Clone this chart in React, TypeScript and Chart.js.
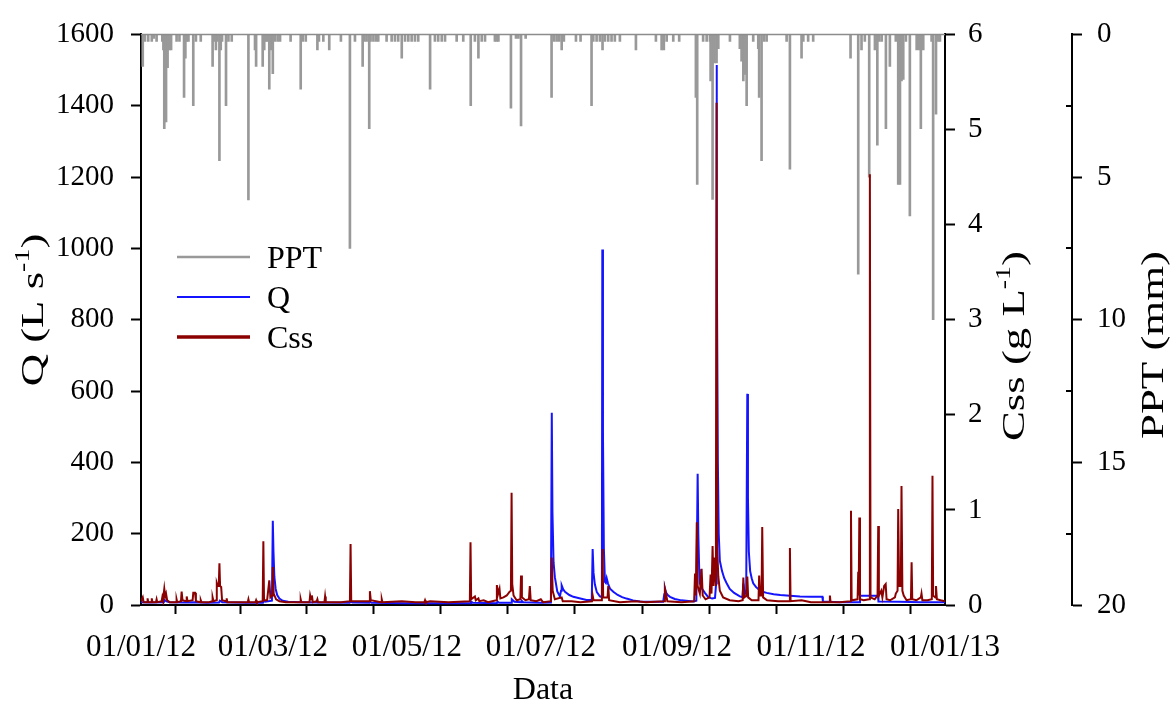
import React, { useEffect, useRef } from "react";
import { Chart, registerables } from "chart.js";

Chart.register(...registerables);

const FONT = "'Liberation Serif', 'Times New Roman', Times, serif";

// x axis: days since 01/01/2012
const xTickDays = [0, 31, 60, 91, 121, 152, 182, 213, 244, 274, 305, 335, 366];
const xTickLabels = ["01/01/12", "", "01/03/12", "", "01/05/12", "", "01/07/12", "", "01/09/12", "", "01/11/12", "", "01/01/13"];

// PPT (mm), daily rain bars
const pptDays = [
  0.8, 1.8, 3.3, 4.9, 5.9, 7.1, 9.7, 10.2, 10.6, 11.4,
  12.1, 12.9, 13.7, 16.2, 17.5, 19.6, 20.2, 20.8, 21.6, 23.8,
  25.0, 27.2, 32.6, 33.2, 34.1, 34.8, 35.7, 36.3, 36.9, 38.7,
  39.8, 41.3, 48.9, 51.9, 52.4, 55.4, 56.1, 56.9, 57.7, 58.4,
  59.2, 60.0, 61.0, 62.2, 63.3, 68.1, 72.7, 73.6, 75.0, 80.3,
  81.0, 83.0, 85.7, 91.0, 95.1, 97.4, 100.9, 101.7, 102.7, 103.9,
  104.5, 105.8, 107.0, 108.0, 111.8, 114.1, 115.6, 117.1, 118.7, 120.2,
  121.7, 123.2, 124.7, 126.2, 131.6, 133.8, 135.3, 136.9, 138.4, 143.7,
  146.7, 150.1, 152.0, 153.6, 155.1, 156.6, 161.1, 161.9, 162.7, 168.4,
  170.7, 171.8, 173.0, 175.1, 186.9, 188.0, 189.2, 190.4, 191.5, 192.5,
  198.0, 200.1, 205.1, 205.9, 207.4, 208.9, 210.1, 211.2, 212.7, 214.2,
  215.7, 218.0, 225.3, 234.4, 237.0, 238.0, 239.3, 242.3, 245.0, 252.6,
  253.2, 255.9, 257.5, 259.0, 259.3, 260.2, 261.1, 262.0, 262.8, 268.1,
  272.6, 273.4, 274.2, 274.9, 275.7, 278.7, 281.0, 281.4, 282.5, 283.6,
  284.8, 293.9, 295.4, 300.7, 301.5, 303.7, 306.0, 323.0, 326.5, 328.0,
  329.5, 331.5, 334.1, 335.2, 336.1, 337.2, 339.1, 340.9, 343.6, 344.7,
  345.5, 346.2, 347.0, 348.2, 350.0, 353.1, 354.3, 355.0, 356.1, 359.9,
  360.6, 361.9, 362.9, 363.7,
];
const pptVals = [
  1.12, 0.25, 0.25, 0.25, 0.14, 0.25, 0.25, 0.54, 3.3, 3.07,
  1.17, 0.54, 0.54, 0.25, 0.25, 2.21, 0.83, 0.25, 0.25, 2.5,
  0.25, 0.25, 1.12, 0.25, 0.54, 0.25, 4.43, 0.54, 0.25, 2.5,
  0.25, 0.25, 5.8, 0.54, 1.12, 1.12, 0.54, 0.25, 0.25, 1.92,
  0.54, 1.38, 0.25, 0.25, 0.25, 0.25, 1.92, 0.25, 0.25, 0.54,
  0.25, 0.25, 0.54, 0.25, 7.5, 0.25, 1.12, 0.25, 0.25, 3.3,
  0.25, 0.25, 0.25, 0.25, 0.25, 0.25, 0.25, 0.25, 0.83, 0.25,
  0.25, 0.25, 0.25, 0.25, 1.92, 0.25, 0.25, 0.25, 0.25, 0.25,
  0.25, 2.5, 0.25, 0.83, 0.25, 0.25, 0.25, 0.25, 0.25, 2.59,
  0.14, 0.14, 3.21, 0.14, 2.21, 0.25, 0.25, 0.25, 0.54, 0.25,
  0.25, 0.25, 2.5, 0.25, 0.25, 0.25, 0.54, 0.25, 0.25, 0.25,
  0.25, 0.25, 0.54, 0.25, 0.54, 0.54, 0.25, 0.25, 0.25, 2.21,
  5.26, 0.25, 0.25, 0.25, 1.63, 5.78, 1.0, 1.0, 0.5, 0.25,
  0.5, 0.94, 1.63, 1.4, 2.5, 0.25, 0.5, 2.21, 4.43, 0.25,
  0.25, 0.25, 4.72, 0.83, 0.25, 0.25, 0.25, 0.83, 8.4, 0.54,
  0.25, 5.0, 0.54, 3.88, 0.25, 0.25, 3.3, 1.12, 0.25, 5.26,
  5.26, 1.63, 1.58, 0.25, 6.36, 0.54, 0.54, 3.3, 0.54, 0.25,
  10.0, 2.8, 0.25, 0.25,
];

// Q (L s-1)
const qDays = [
  0, 4, 10.4, 10.8, 11.6, 13, 19.5, 24, 30, 35.5,
  35.9, 37, 48, 55.5, 55.8, 56.5, 59.6, 60, 60.3, 60.7,
  61.3, 62, 63, 64.5, 67, 72, 80, 95, 95.4, 96.2,
  104, 104.3, 105, 120, 135, 150, 150.2, 151, 162, 162.3,
  163, 168.5, 168.8, 170, 173, 173.3, 174, 182, 186.6, 187,
  187.3, 187.8, 188.4, 189.5, 190.7, 191.2, 191.5, 192.2, 193, 195,
  196.8, 200, 202.8, 205.2, 205.6, 206, 206.6, 207.5, 208.9, 209.8,
  210, 210.3, 210.7, 211.2, 211.6, 212, 212.6, 213.5, 215, 217,
  219, 221, 224, 227.1, 232, 237.7, 238.2, 238.5, 239, 239.8,
  240.8, 243, 246, 251.4, 252.8, 253.4, 253.7, 254.1, 254.4, 255.5,
  256.7, 258.2, 260, 261.3, 261.8, 262, 262.2, 262.6, 263, 263.5,
  264.5, 265.5, 266.6, 268, 270, 272.6, 273.8, 274.2, 274.6, 275.5,
  276, 276.3, 276.7, 277.3, 278, 278.7, 280, 281.5, 283, 284.8,
  288, 291, 295.4, 300, 305, 310.2, 310.4, 318, 327.1, 327.3,
  335.5, 335.7, 345, 355, 366,
];
const qVals = [
  8, 7, 8, 14, 10, 8, 7, 8, 6, 7,
  12, 8, 6, 6, 14, 9, 12, 236, 150, 80,
  45, 28, 18, 12, 9, 8, 7, 6, 10, 7,
  6, 9, 6, 5, 5, 5, 10, 6, 5, 10,
  6, 6, 16, 9, 8, 12, 8, 6, 7, 539,
  260, 120, 78, 38, 24, 40, 55, 44, 37, 28,
  23, 18, 14, 14, 157, 90, 58, 36, 24, 22,
  997, 480, 160, 65, 62, 75, 60, 46, 37, 28,
  22, 18, 13, 10, 9, 9, 30, 47, 35, 28,
  23, 17, 13, 10, 12, 368, 200, 100, 61, 45,
  34, 22, 18, 20, 60, 1514, 1000, 400, 200, 124,
  95, 75, 61, 45, 34, 24, 22, 60, 40, 30,
  592, 300, 150, 95, 75, 61, 50, 42, 37, 34,
  30, 28, 26, 24, 23, 23, 10, 8, 8, 26,
  26, 10, 9, 8, 8,
];

// Css (g L-1)
const cssDays = [
  0, 0.8, 1.2, 2.8, 3.0, 3.3, 4.6, 4.9, 5.2, 6.8,
  7.1, 7.4, 9.4, 9.7, 10.0, 10.6, 11.0, 11.4, 11.9, 13,
  16, 16.2, 16.5, 18.2, 18.5, 18.9, 20.5, 20.8, 21.2, 23.5,
  23.8, 24.6, 25, 27, 27.2, 27.5, 31, 32.4, 32.6, 33,
  34.3, 34.5, 34.9, 35.4, 35.7, 36.0, 36.5, 36.9, 38.7, 39,
  39.3, 45, 48.6, 48.9, 49.2, 52.1, 52.4, 52.7, 55.4, 55.7,
  56.0, 57.4, 58.4, 58.9, 59.7, 60.0, 60.4, 61.5, 63, 66,
  72.5, 72.7, 73, 76.7, 77, 77.4, 77.8, 78.2, 80, 80.3,
  80.6, 83.5, 83.8, 84.1, 86, 91, 95.1, 95.4, 95.7, 101,
  103.9, 104.2, 104.6, 109.3, 109.6, 109.9, 118.7, 125, 129.0, 129.3,
  129.6, 131.6, 140, 149.7, 150.0, 150.3, 152, 152.4, 153.6, 154,
  156, 158, 161.7, 162, 162.6, 163.2, 163.6, 165, 166.5, 167.8,
  168.4, 168.7, 169.0, 169.6, 171, 172.7, 173, 173.4, 175, 176.6,
  177, 177.4, 180, 182, 183, 186.6, 187, 187.4, 188.4, 191.5,
  192, 196, 200, 205.3, 205.6, 206, 209.8, 210.1, 210.4, 212.4,
  212.7, 213.1, 218, 225.3, 230, 238.2, 238.5, 239, 239.6, 246,
  251.8, 252.2, 252.6, 253.0, 253.4, 254.4, 255.2, 255.7, 257, 258.8,
  259.3, 259.7, 260.2, 260.6, 261.2, 261.7, 262, 262.3, 262.8, 263.5,
  265, 268, 272, 273.9, 274.2, 274.6, 275.7, 276, 276.4, 278,
  281.1, 281.4, 281.8, 282.5, 282.8, 283.2, 285, 290, 295.1, 295.4,
  295.7, 300.7, 305, 313.3, 313.6, 313.9, 318, 322.9, 323.2, 323.5,
  326.2, 326.5, 326.7, 327.0, 327.3, 329, 331.5, 331.8, 332.1, 334,
  335.3, 335.6, 335.9, 337, 337.5, 338.3, 339, 339.4, 341, 343.2,
  343.6, 344.4, 344.7, 345.1, 345.9, 346.2, 346.6, 347.2, 348.5, 350.5,
  350.8, 351.1, 353, 355, 355.3, 355.7, 358, 360.0, 360.3, 360.6,
  361.6, 361.9, 362.3, 364, 366,
];
const cssVals = [
  0.04, 0.08, 0.03, 0.03, 0.07, 0.03, 0.03, 0.07, 0.03, 0.03,
  0.06, 0.03, 0.04, 0.08, 0.05, 0.17, 0.09, 0.12, 0.05, 0.03,
  0.03, 0.06, 0.03, 0.04, 0.14, 0.05, 0.04, 0.09, 0.04, 0.05,
  0.13, 0.13, 0.04, 0.03, 0.05, 0.03, 0.03, 0.04, 0.08, 0.04,
  0.05, 0.23, 0.2, 0.2, 0.44, 0.2, 0.19, 0.05, 0.04, 0.07,
  0.03, 0.03, 0.03, 0.06, 0.03, 0.03, 0.05, 0.03, 0.04, 0.67,
  0.05, 0.05, 0.26, 0.08, 0.1, 0.4, 0.12, 0.06, 0.04, 0.03,
  0.03, 0.06, 0.03, 0.03, 0.1, 0.06, 0.1, 0.03, 0.04, 0.06,
  0.03, 0.03, 0.09, 0.03, 0.03, 0.03, 0.04, 0.64, 0.04, 0.04,
  0.04, 0.145, 0.05, 0.03, 0.06, 0.03, 0.04, 0.03, 0.03, 0.05,
  0.03, 0.04, 0.03, 0.04, 0.66, 0.06, 0.09, 0.05, 0.07, 0.04,
  0.05, 0.03, 0.05, 0.21, 0.12, 0.17, 0.07, 0.08, 0.1, 0.14,
  0.15, 1.18, 0.22, 0.1, 0.05, 0.06, 0.31, 0.08, 0.05, 0.06,
  0.2, 0.05, 0.04, 0.06, 0.03, 0.04, 0.5, 0.15, 0.06, 0.08,
  0.04, 0.04, 0.03, 0.04, 0.1, 0.05, 0.05, 0.59, 0.08, 0.08,
  0.2, 0.05, 0.03, 0.04, 0.03, 0.04, 0.17, 0.12, 0.04, 0.03,
  0.04, 0.33, 0.1, 0.87, 0.2, 0.12, 0.38, 0.1, 0.06, 0.08,
  0.32, 0.12, 0.62, 0.2, 0.5, 0.2, 5.28, 0.6, 0.3, 0.15,
  0.08, 0.05, 0.04, 0.05, 0.29, 0.08, 0.1, 0.3, 0.08, 0.05,
  0.05, 0.31, 0.1, 0.1, 0.82, 0.08, 0.05, 0.04, 0.04, 0.6,
  0.04, 0.05, 0.03, 0.03, 0.1, 0.03, 0.03, 0.04, 0.99, 0.05,
  0.06, 0.35, 0.1, 0.92, 0.06, 0.05, 0.06, 4.53, 0.08, 0.06,
  0.1, 0.83, 0.1, 0.15, 0.08, 0.2, 0.22, 0.06, 0.05, 0.08,
  0.12, 0.15, 1.01, 0.2, 0.2, 1.25, 0.15, 0.1, 0.05, 0.06,
  0.45, 0.06, 0.05, 0.08, 0.12, 0.05, 0.05, 0.06, 1.36, 0.1,
  0.08, 0.2, 0.06, 0.05, 0.04,
];

const pptMinorTicks = [2.5, 7.5, 12.5, 17.5];

const colors = { ppt: "#999999", q: "#1414ff", css: "#8b0000" };

type Part = { text: string; sup?: boolean };

function drawText(ctx: CanvasRenderingContext2D, cx: number, cy: number, parts: Part[], size: number, stretch: number, rotate: boolean) {
  ctx.save();
  ctx.translate(cx, cy);
  if (rotate) ctx.rotate(-Math.PI / 2);
  ctx.scale(stretch, 1);
  const supSize = Math.round(size * 0.62);
  let total = 0;
  const widths: number[] = [];
  for (const p of parts) {
    ctx.font = `${p.sup ? supSize : size}px ${FONT}`;
    const w = ctx.measureText(p.text).width;
    widths.push(w);
    total += w;
  }
  let x = -total / 2;
  const base = size * 0.33;
  ctx.fillStyle = "#000";
  ctx.textAlign = "left";
  ctx.textBaseline = "alphabetic";
  parts.forEach((p, i) => {
    ctx.font = `${p.sup ? supSize : size}px ${FONT}`;
    ctx.fillText(p.text, x, p.sup ? base - size * 0.42 : base);
    x += widths[i];
  });
  ctx.restore();
}

const decorPlugin = {
  id: "decor",
  afterDraw(chart: any) {
    const ctx: CanvasRenderingContext2D = chart.ctx;
    const ca = chart.chartArea;
    ctx.save();
    // top frame line
    ctx.strokeStyle = "#8c8c8c";
    ctx.lineWidth = 1.5;
    ctx.beginPath();
    ctx.moveTo(ca.left, ca.top);
    ctx.lineTo(ca.right, ca.top);
    ctx.stroke();

    // PPT minor ticks
    const sp = chart.scales.yPPT;
    ctx.strokeStyle = "#000";
    ctx.lineWidth = 2;
    for (const v of pptMinorTicks) {
      const y = Math.round(sp.getPixelForValue(v));
      ctx.beginPath();
      ctx.moveTo(sp.left - 6, y);
      ctx.lineTo(sp.left, y);
      ctx.stroke();
    }

    // legend
    const order = ["PPT", "Q", "Css"];
    order.forEach((lab, i) => {
      const ds = chart.data.datasets.find((d: any) => d.label === lab);
      const y = 257 + i * 40;
      ctx.strokeStyle = ds.legendColor;
      ctx.lineWidth = ds.legendWidth;
      ctx.beginPath();
      ctx.moveTo(177, y);
      ctx.lineTo(250, y);
      ctx.stroke();
      ctx.fillStyle = "#000";
      ctx.font = `32px ${FONT}`;
      ctx.textAlign = "left";
      ctx.textBaseline = "alphabetic";
      ctx.fillText(lab, 267, y + 10.6);
    });
    ctx.restore();

    // axis titles
    drawText(ctx, 32, 310, [{ text: "Q (L s" }, { text: "-1", sup: true }, { text: ")" }], 32, 1.4, true);
    drawText(ctx, 1013, 346, [{ text: "Css (g L" }, { text: "-1", sup: true }, { text: ")" }], 32, 1.4, true);
    drawText(ctx, 1152, 345, [{ text: "PPT (mm)" }], 32, 1.4, true);
    drawText(ctx, (ca.left + ca.right) / 2, 688, [{ text: "Data" }], 32, 1, false);
  },
};

export default function App() {
  const ref = useRef<HTMLCanvasElement | null>(null);

  useEffect(() => {
    if (!ref.current) return;
    const pptData = pptDays.map((d, i) => ({ x: d, y: pptVals[i] }));
    const qData = qDays.map((d, i) => ({ x: d, y: qVals[i] }));
    const cssData = cssDays.map((d, i) => ({ x: d, y: cssVals[i] }));

    const tickFont = { family: FONT, size: 29 };
    const gridCommon = { display: true, drawOnChartArea: false, drawTicks: true, tickLength: 10, tickColor: "#000", tickWidth: 2 };
    const borderCommon = { display: true, color: "#000", width: 2 };
    const plain = (v: any) => String(v);

    const chart = new Chart(ref.current, {
      type: "line",
      data: {
        datasets: [
          {
            type: "line",
            label: "Css",
            data: cssData,
            yAxisID: "yCss",
            borderColor: colors.css,
            borderWidth: 2,
            pointRadius: 0,
            tension: 0,
            order: 0,
            legendColor: colors.css,
            legendWidth: 3.5,
          } as any,
          {
            type: "line",
            label: "Q",
            data: qData,
            yAxisID: "yQ",
            borderColor: colors.q,
            borderWidth: 2,
            pointRadius: 0,
            tension: 0,
            order: 1,
            legendColor: colors.q,
            legendWidth: 2,
          } as any,
          {
            type: "bar",
            label: "PPT",
            data: pptData,
            yAxisID: "yPPT",
            backgroundColor: colors.ppt,
            borderWidth: 0,
            barThickness: 2,
            grouped: false,
            order: 2,
            legendColor: colors.ppt,
            legendWidth: 2.5,
          } as any,
        ],
      },
      options: {
        responsive: false,
        animation: false,
        devicePixelRatio: 1,
        layout: { padding: { top: 26, left: 0, right: 0, bottom: 0 } },
        plugins: { legend: { display: false }, tooltip: { enabled: false }, title: { display: false } },
        scales: {
          x: {
            type: "linear",
            position: "bottom",
            min: 0,
            max: 366,
            offset: false,
            afterBuildTicks: (s: any) => {
              s.ticks = xTickDays.map((v) => ({ value: v }));
            },
            afterFit: (s: any) => {
              s.height = 97;
            },
            ticks: {
              autoSkip: false,
              maxRotation: 0,
              minRotation: 0,
              padding: 15,
              color: "#000",
              font: { family: FONT, size: 31 },
              callback: (_v: any, i: number) => xTickLabels[i],
            },
            grid: { ...gridCommon, tickLength: 9 },
            border: borderCommon,
          },
          yQ: {
            type: "linear",
            position: "left",
            min: 0,
            max: 1600,
            afterFit: (s: any) => {
              s.width = 141;
            },
            ticks: { stepSize: 200, padding: 17, color: "#000", font: tickFont, callback: plain },
            grid: gridCommon,
            border: borderCommon,
          },
          yCss: {
            type: "linear",
            position: "right",
            min: 0,
            max: 6,
            afterFit: (s: any) => {
              s.width = 127;
            },
            ticks: { stepSize: 1, padding: 13, color: "#000", font: tickFont, callback: plain },
            grid: gridCommon,
            border: borderCommon,
          },
          yPPT: {
            type: "linear",
            position: "right",
            reverse: true,
            min: 0,
            max: 20,
            afterFit: (s: any) => {
              s.width = 99;
            },
            ticks: { stepSize: 5, padding: 15, color: "#000", font: tickFont, callback: plain },
            grid: gridCommon,
            border: borderCommon,
          },
        } as any,
      },
      plugins: [decorPlugin as any],
    } as any);

    return () => chart.destroy();
  }, []);

  return (
    <div style={{ position: "absolute", left: 0, top: 0, width: 1171, height: 702, background: "#fff" }}>
      <canvas ref={ref} width={1171} height={702} style={{ display: "block", width: 1171, height: 702 }} />
    </div>
  );
}
